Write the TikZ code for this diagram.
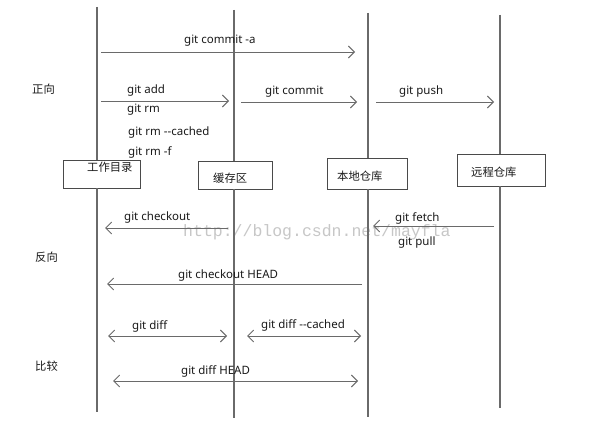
\documentclass[tikz,border=0pt]{standalone}
\usepackage{fontspec}
\setmainfont{Noto Sans}
\newfontfamily\cjk{Noto Sans CJK SC}
\newfontfamily\wmfont{Liberation Mono}
\usetikzlibrary{arrows.meta}
\definecolor{linegray}{HTML}{6A6A6A}
\definecolor{boxgray}{HTML}{4A4A4A}
\definecolor{inkgray}{HTML}{1A1A1A}
\tikzset{
  lifeline/.style={draw=linegray,line width=1.2pt},
  lanebox/.style={draw=boxgray,line width=0.9pt,fill=white,inner sep=0pt},
  msg/.style={draw=linegray,line width=0.9pt,>={Straight Barb[length=6pt,width=12pt]}},
  lbl/.style={anchor=west,inner sep=0pt,text=inkgray,font=\fontsize{11.5}{13}\selectfont},
  cjklbl/.style={lbl,font=\cjk\fontsize{11.3}{13}\selectfont},
}
\newcommand{\gitlane}[8]{%
  \node[lanebox,minimum width=#7-#5,minimum height=#8-#6] (#1) at ({(#5+#7)/2},{(#6+#8)/2}) {};
  \coordinate (#1top) at (#2,#3);
  \coordinate (#1bot) at (#2,#4);
  \draw[lifeline] (#1top) -- (#1top |- #1.north);
  \draw[lifeline] (#1bot |- #1.south) -- (#1bot);
}
\newcommand{\gitmsg}[5]{%
  \coordinate (#1s) at (#2,#4);
  \coordinate (#1e) at (#3,#4);
  \draw[msg,#5] (#1s) -- (#1e);
}

\begin{document}
\begin{tikzpicture}[x=1pt,y=-1pt]
  \useasboundingbox[fill=white] (0,0) rectangle (614,441);
  \node[text=black!22,font=\wmfont\fontsize{16.5}{18}\selectfont,anchor=west,inner sep=0pt]
        (watermark) at (183,232) {http://blog.csdn.net/mayfla};

  \gitlane{wd}{97}{7}{412}{63}{160}{140}{188}
  \gitlane{idx}{234}{10}{418}{198}{161}{272}{189}
  \gitlane{loc}{368}{13}{417}{327}{158}{407}{189}
  \gitlane{rem}{500}{15}{408}{457}{154}{545}{186}
  \node[cjklbl] (wdt) at (87,167) {工作目录};
  \node[cjklbl] (idxt) at (213,178) {缓存区};
  \node[cjklbl] (loct) at (337,176) {本地仓库};
  \node[cjklbl] (remt) at (471,172) {远程仓库};

  \node[cjklbl] (fwd) at (32,89) {正向};
  \node[cjklbl] (back) at (35,257) {反向};
  \node[cjklbl] (cmp) at (35,366) {比较};

  \gitmsg{commita}{101}{355}{52}{->}
  \gitmsg{add}{101}{229}{101}{->}
  \gitmsg{commit}{241}{357}{102}{->}
  \gitmsg{push}{376}{494}{102}{->}
  \gitmsg{checkout}{228}{105}{228}{->}
  \gitmsg{fetch}{494}{373}{226}{->}
  \gitmsg{checkouthead}{362}{107}{284}{->}
  \gitmsg{diff}{108}{227}{336}{<->}
  \gitmsg{diffcached}{247}{361}{336}{<->}
  \gitmsg{diffhead}{113}{358}{381}{<->}

  \node[lbl] (lcommita) at (184,41) {git commit -a};
  \node[lbl] (ladd) at (127,91) {git add};
  \node[lbl] (lrm) at (127,110) {git rm};
  \node[lbl] (lrmcached) at (128,133) {git rm -{}-cached};
  \node[lbl] (lrmf) at (128,152) {git rm -f};
  \node[lbl] (lcommit) at (265,92) {git commit};
  \node[lbl] (lpush) at (399,92) {git push};
  \node[lbl] (lcheckout) at (124,218) {git checkout};
  \node[lbl] (lfetch) at (395,218) {git fetch};
  \node[lbl] (lpull) at (398,243) {git pull};
  \node[lbl] (lcheckouthead) at (178,276) {git checkout HEAD};
  \node[lbl] (ldiff) at (132,326) {git diff};
  \node[lbl] (ldiffcached) at (261,325) {git diff -{}-cached};
  \node[lbl] (ldiffhead) at (181,371) {git diff HEAD};
\end{tikzpicture}
\end{document}
